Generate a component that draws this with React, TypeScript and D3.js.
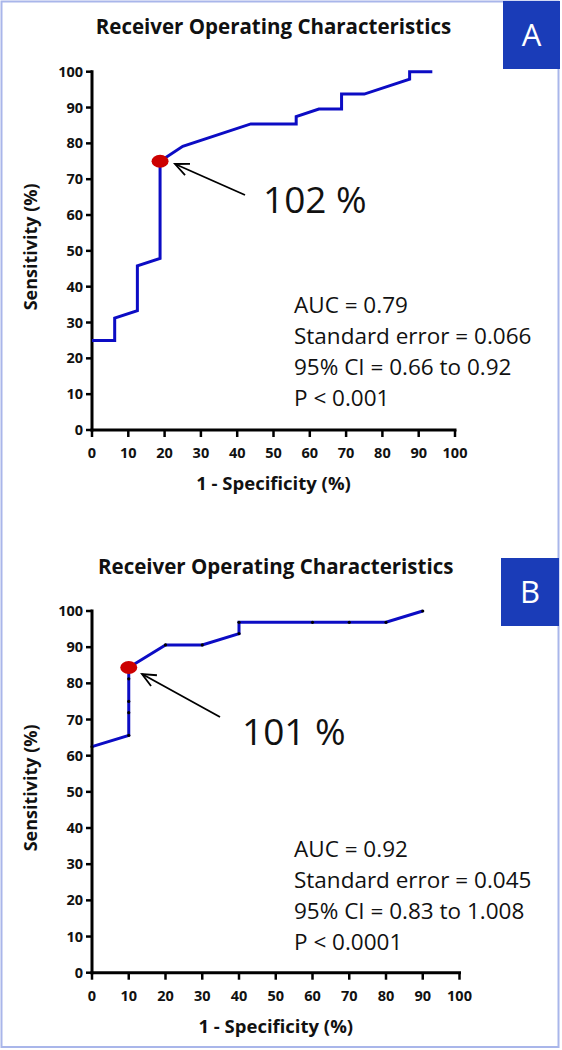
import React from "react";
import * as d3 from "d3";

// ---------- Data ----------
const ticks = [0, 10, 20, 30, 40, 50, 60, 70, 80, 90, 100];

// Panel A ROC curve
const fprA = [0, 6.25, 6.25, 12.5, 12.5, 18.75, 18.75, 25, 43.75, 56.25, 56.25, 62.5, 68.75, 68.75, 75, 87.5, 87.5, 93.75];
const tprA = [25, 25, 31.25, 33.33, 45.83, 47.92, 75, 79.17, 85.42, 85.42, 87.5, 89.58, 89.58, 93.75, 93.75, 97.92, 100, 100];
const cutoffA = { x: 18.75, y: 75 };
const statsA = ["AUC = 0.79", "Standard error = 0.066", "95% CI = 0.66 to 0.92", "P < 0.001"];
const arrowLabelA = "102 %";

// Panel B ROC curve
const fprB = [0, 10, 10, 10, 10, 10, 20, 30, 40, 40, 60, 70, 80, 90];
const tprB = [62.5, 65.63, 71.88, 75, 81.25, 84.38, 90.63, 90.63, 93.75, 96.88, 96.88, 96.88, 96.88, 100];
const cutoffB = { x: 10, y: 84.38 };
const statsB = ["AUC = 0.92", "Standard error = 0.045", "95% CI = 0.83 to 1.008", "P < 0.0001"];
const arrowLabelB = "101 %";

const title = "Receiver Operating Characteristics";
const xLabel = "1 - Specificity (%)";
const yLabel = "Sensitivity (%)";

const FONT = "'Open Sans', Lato, sans-serif";
const LINE = "#0c0cc4";

type PanelProps = {
  fpr: number[];
  tpr: number[];
  cutoff: { x: number; y: number };
  stats: string[];
  arrowLabel: string;
  letter: string;
  x0: number; x1: number; y0: number; y1: number;
  titleY: number;
  box: { x: number; y: number; w: number; h: number };
  arrow: { x1: number; y1: number; x2: number; y2: number };
  labelPos: { x: number; y: number };
  statsPos: { x: number; y: number };
  dots: boolean;
};

function Panel(p: PanelProps) {
  const x = d3.scaleLinear().domain([0, 100]).range([p.x0, p.x1]);
  const y = d3.scaleLinear().domain([0, 100]).range([p.y0, p.y1]);
  const pts: [number, number][] = p.fpr.map((f, i) => [f, p.tpr[i]]);
  const line = d3.line<[number, number]>().x((d) => x(d[0])).y((d) => y(d[1]));
  const cx = (p.x0 + p.x1) / 2;
  const cy = (p.y0 + p.y1) / 2;

  // arrowhead
  const a = p.arrow;
  const ang = Math.atan2(a.y2 - a.y1, a.x2 - a.x1);
  const hl = 15;
  const spread = 0.42;
  const h1 = [a.x2 - hl * Math.cos(ang - spread), a.y2 - hl * Math.sin(ang - spread)];
  const h2 = [a.x2 - hl * Math.cos(ang + spread), a.y2 - hl * Math.sin(ang + spread)];

  return (
    <g>
      <text x={cx} y={p.titleY} textAnchor="middle" fontFamily={FONT} fontWeight="bold" fontSize={20.5} fill="#111">
        {title}
      </text>
      <rect x={p.box.x} y={p.box.y} width={p.box.w} height={p.box.h} fill="#1a3cb8" />
      <text x={p.box.x + p.box.w / 2} y={p.box.y + p.box.h / 2 + 11} textAnchor="middle" fontFamily={FONT} fontSize={31} fill="#fff">
        {p.letter}
      </text>

      {/* axes */}
      <line x1={p.x0} y1={p.y0} x2={p.x0} y2={p.y1} stroke="#000" strokeWidth={3} strokeLinecap="square" />
      <line x1={p.x0} y1={p.y0} x2={p.x1} y2={p.y0} stroke="#000" strokeWidth={3} strokeLinecap="square" />
      {ticks.map((t) => (
        <g key={"y" + t}>
          <line x1={p.x0 - 6} x2={p.x0} y1={y(t)} y2={y(t)} stroke="#000" strokeWidth={2.5} />
          <text x={p.x0 - 9} y={y(t) + 5} textAnchor="end" fontFamily={FONT} fontWeight="bold" fontSize={14.5} fill="#111">
            {t}
          </text>
        </g>
      ))}
      {ticks.map((t) => (
        <g key={"x" + t}>
          <line x1={x(t)} x2={x(t)} y1={p.y0} y2={p.y0 + 7} stroke="#000" strokeWidth={2.5} />
          <text x={x(t)} y={p.y0 + 28} textAnchor="middle" fontFamily={FONT} fontWeight="bold" fontSize={14.5} fill="#111">
            {t}
          </text>
        </g>
      ))}
      <text x={cx} y={p.y0 + 60} textAnchor="middle" fontFamily={FONT} fontWeight="bold" fontSize={18.5} fill="#111">
        {xLabel}
      </text>
      <text transform={`translate(37,${cy - 4}) rotate(-90)`} textAnchor="middle" fontFamily={FONT} fontWeight="bold" fontSize={18} fill="#111">
        {yLabel}
      </text>

      {/* curve */}
      <path d={line(pts) || ""} fill="none" stroke={LINE} strokeWidth={3} strokeLinejoin="miter" />
      {p.dots && pts.map((d, i) => <circle key={i} cx={x(d[0])} cy={y(d[1])} r={1.6} fill="#000" />)}
      <ellipse cx={x(p.cutoff.x)} cy={y(p.cutoff.y)} rx={8.5} ry={6.5} fill="#cc0000" />

      {/* arrow */}
      <line x1={a.x1} y1={a.y1} x2={a.x2} y2={a.y2} stroke="#000" strokeWidth={1.8} />
      <polyline points={`${h1[0]},${h1[1]} ${a.x2},${a.y2} ${h2[0]},${h2[1]}`} fill="none" stroke="#000" strokeWidth={1.8} />
      <text x={p.labelPos.x} y={p.labelPos.y} fontFamily={FONT} fontSize={37} fill="#111">
        {p.arrowLabel}
      </text>

      {p.stats.map((s, i) => (
        <text key={i} x={p.statsPos.x} y={p.statsPos.y + i * 31} fontFamily={FONT} fontSize={22.5} fill="#111">
          {s}
        </text>
      ))}
    </g>
  );
}

export default function App() {
  return (
    <svg width={562} height={1050} style={{ position: "absolute", left: 0, top: 0, background: "#fff" }}>
      <rect x={0} y={0} width={562} height={1050} fill="#fff" />
      <rect x={1.5} y={1.5} width={557} height={1045.5} fill="none" stroke="#a9b6ea" strokeWidth={2} />
      <Panel
        fpr={fprA} tpr={tprA} cutoff={cutoffA} stats={statsA} arrowLabel={arrowLabelA} letter="A"
        x0={92} x1={455} y0={430} y1={71.7} titleY={34}
        box={{ x: 503, y: 1, w: 57, h: 68 }}
        arrow={{ x1: 245, y1: 195, x2: 175, y2: 164 }}
        labelPos={{ x: 263, y: 213 }}
        statsPos={{ x: 294, y: 312.7 }}
        dots={false}
      />
      <Panel
        fpr={fprB} tpr={tprB} cutoff={cutoffB} stats={statsB} arrowLabel={arrowLabelB} letter="B"
        x0={92} x1={459.5} y0={972.7} y1={611} titleY={574}
        box={{ x: 501, y: 558, w: 58, h: 68 }}
        arrow={{ x1: 220, y1: 717, x2: 142, y2: 674 }}
        labelPos={{ x: 242, y: 745 }}
        statsPos={{ x: 294, y: 856.7 }}
        dots={true}
      />
    </svg>
  );
}
